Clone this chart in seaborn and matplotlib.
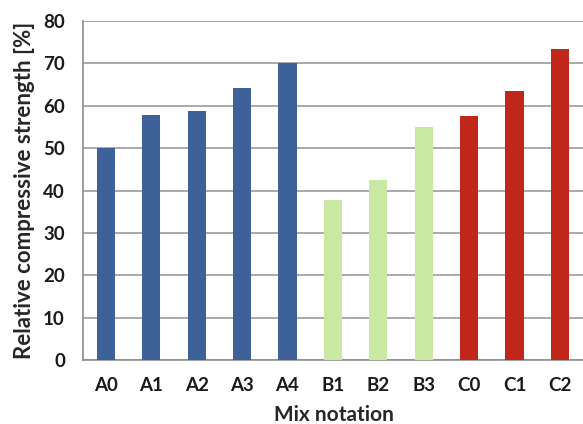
import matplotlib
matplotlib.use("Agg")
import matplotlib.pyplot as plt
from matplotlib.ticker import FixedLocator
import seaborn as sns
import pandas as pd

# Mix notations and their relative compressive strength (%)
mixes = ["A0", "A1", "A2", "A3", "A4", "B1", "B2", "B3", "C0", "C1", "C2"]
strength = [50.0, 57.9, 58.7, 64.2, 70.0, 37.7, 42.5, 55.0, 57.6, 63.5, 73.3]
series = ["A", "A", "A", "A", "A", "B", "B", "B", "C", "C", "C"]
series_colors = {"A": "#3D6198", "B": "#C9E8A2", "C": "#C1261B"}

df = pd.DataFrame({"mix": mixes, "strength": strength, "series": series})

sns.set_style("white")
plt.rcParams["font.family"] = ["Lato", "DejaVu Sans"]

fig = plt.figure(figsize=(5.83, 4.24), dpi=100)
ax = fig.add_axes([0.1424, 0.1509, 0.861, 0.7995])

sns.barplot(data=df, x="mix", y="strength", hue="series", palette=series_colors,
            dodge=False, width=0.4, legend=False, ax=ax, zorder=3,
            linewidth=0, saturation=1)

ax.set_ylim(0, 80)
ax.set_xlim(-0.5, len(mixes) - 0.5 + 0.05)
ax.set_yticks(range(0, 81, 10))
ax.yaxis.grid(True, color="#A3A3A3", linewidth=1.3, zorder=0)
ax.xaxis.grid(False)

# tick marks between categories on the x axis
ax.xaxis.set_minor_locator(FixedLocator([i - 0.5 for i in range(len(mixes) + 1)]))
ax.tick_params(axis="x", which="major", length=0, pad=12, labelsize=13.5)
ax.tick_params(axis="x", which="minor", length=5, width=1.2, color="#8C8C8C")
ax.tick_params(axis="y", which="major", length=5, width=1.2, color="#8C8C8C",
               labelsize=13.5, pad=8)
for lbl in ax.get_xticklabels() + ax.get_yticklabels():
    lbl.set_fontweight("bold")
    lbl.set_color("#1A1A1A")

for side in ("top", "right"):
    ax.spines[side].set_visible(False)
for side in ("left", "bottom"):
    ax.spines[side].set_color("#8C8C8C")
    ax.spines[side].set_linewidth(1.2)

ax.set_xlabel("Mix notation", fontsize=15, fontweight="bold", labelpad=8)
ax.set_ylabel("Relative compressive strength [%]", fontsize=16, fontweight="bold",
              labelpad=6)

fig.savefig("out.png", dpi=100)
